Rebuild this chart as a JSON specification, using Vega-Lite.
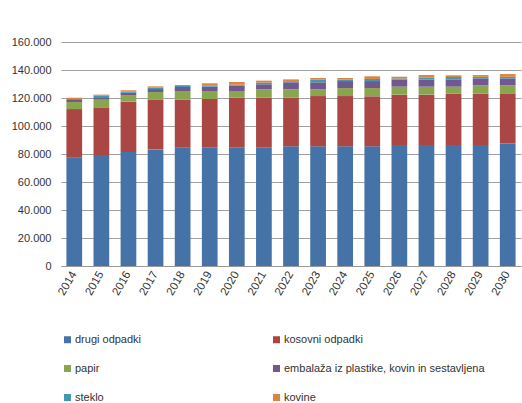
{
  "$schema": "https://vega.github.io/schema/vega-lite/v6.json",
  "width": 460,
  "height": 224,
  "autosize": "none",
  "padding": {"left": 61, "top": 42, "right": 1, "bottom": 137},
  "background": "white",
  "config": {
    "view": {"stroke": null},
    "font": "Liberation Sans",
    "axis": {"labelFont": "Liberation Sans", "labelFontSize": 11, "labelColor": "#333333"},
    "legend": {"labelFont": "Liberation Sans", "labelFontSize": 11, "labelColor": "#333333"}
  },
  "datasets": {
    "wide": [
      {"leto": "2014", "a": 77600, "b": 34500, "c": 5000, "d": 1500, "e": 700, "f": 900},
      {"leto": "2015", "a": 78600, "b": 34700, "c": 5500, "d": 1800, "e": 1000, "f": 800},
      {"leto": "2016", "a": 81400, "b": 36000, "c": 4700, "d": 1700, "e": 700, "f": 1000},
      {"leto": "2017", "a": 83300, "b": 35700, "c": 5300, "d": 2100, "e": 1000, "f": 900},
      {"leto": "2018", "a": 84500, "b": 34500, "c": 6000, "d": 2900, "e": 700, "f": 700},
      {"leto": "2019", "a": 84500, "b": 34800, "c": 5700, "d": 3100, "e": 900, "f": 1500},
      {"leto": "2020", "a": 84500, "b": 35700, "c": 4800, "d": 3800, "e": 700, "f": 1900},
      {"leto": "2021", "a": 84500, "b": 35700, "c": 6000, "d": 3600, "e": 1200, "f": 1400},
      {"leto": "2022", "a": 85500, "b": 34700, "c": 6000, "d": 5000, "e": 800, "f": 1300},
      {"leto": "2023", "a": 85500, "b": 35900, "c": 4800, "d": 5000, "e": 1900, "f": 1200},
      {"leto": "2024", "a": 85500, "b": 35900, "c": 5700, "d": 5000, "e": 1000, "f": 1200},
      {"leto": "2025", "a": 85500, "b": 35700, "c": 5900, "d": 5000, "e": 1500, "f": 1900},
      {"leto": "2026", "a": 86400, "b": 36000, "c": 5700, "d": 5000, "e": 900, "f": 1200},
      {"leto": "2027", "a": 86400, "b": 36000, "c": 5700, "d": 5000, "e": 1400, "f": 1900},
      {"leto": "2028", "a": 86400, "b": 36900, "c": 4800, "d": 5200, "e": 1700, "f": 1200},
      {"leto": "2029", "a": 86400, "b": 36900, "c": 5700, "d": 5000, "e": 1200, "f": 1200},
      {"leto": "2030", "a": 87400, "b": 35900, "c": 5700, "d": 5000, "e": 1200, "f": 1900}
    ]
  },
  "data": {"name": "wide"},
  "transform": [
    {"fold": ["a", "b", "c", "d", "e", "f"], "as": ["k", "t"]},
    {"lookup": "k", "from": {"data": {"values": [
      {"k": "a", "vrsta": "drugi odpadki", "o": 0},
      {"k": "b", "vrsta": "kosovni odpadki", "o": 1},
      {"k": "c", "vrsta": "papir", "o": 2},
      {"k": "d", "vrsta": "embalaža iz plastike, kovin in sestavljena", "o": 3},
      {"k": "e", "vrsta": "steklo", "o": 4},
      {"k": "f", "vrsta": "kovine", "o": 5}
    ]}, "key": "k", "fields": ["vrsta", "o"]}}
  ],
  "mark": {"type": "bar"},
  "encoding": {
    "x": {
      "field": "leto", "type": "ordinal", "title": null,
      "scale": {"paddingInner": 0.42, "paddingOuter": 0.2},
      "axis": {"labelAngle": -60, "ticks": false, "domainColor": "#999999", "labelPadding": 6, "labelAlign": "right", "labelBaseline": "middle", "labelFontSize": 11.5}
    },
    "y": {
      "field": "t", "type": "quantitative", "stack": "zero", "title": null,
      "scale": {"domain": [0, 160000], "nice": false},
      "axis": {"values": [0, 20000, 40000, 60000, 80000, 100000, 120000, 140000, 160000], "labelExpr": "replace(format(datum.value, ','), ',', '.')", "ticks": false, "domain": false, "gridColor": "#a0a0a0", "gridWidth": 1.2, "labelPadding": 10}
    },
    "order": {"field": "o", "type": "quantitative", "sort": "ascending"},
    "color": {
      "field": "vrsta", "type": "nominal",
      "scale": {
        "domain": ["drugi odpadki", "kosovni odpadki", "papir", "embalaža iz plastike, kovin in sestavljena", "steklo", "kovine"],
        "range": ["#4572a7", "#aa4643", "#89a54e", "#71588f", "#4198af", "#db843d"]
      },
      "legend": {
        "title": null, "orient": "none", "legendX": 1, "legendY": 292, "direction": "horizontal",
        "columns": 2, "columnPadding": 129, "rowPadding": 17, "labelLimit": 320,
        "symbolType": "square", "symbolSize": 49, "symbolStrokeWidth": 0, "labelOffset": 2
      }
    }
  }
}
